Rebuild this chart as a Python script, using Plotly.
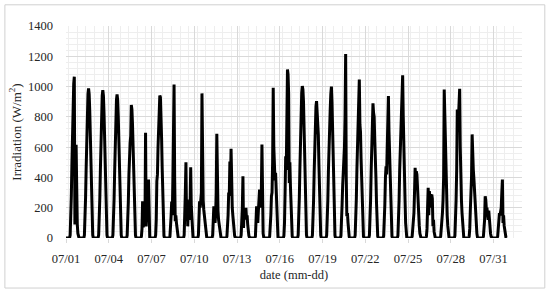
import pandas as pd
import plotly.graph_objects as go

# hourly irradiation (W/m2) for hours 07:00 .. 21:00 of each day in July, zero otherwise
daylight_hours = list(range(7, 22))

jul01 = [20, 110, 280, 500, 720, 900, 1020, 1065, 90, 300, 615, 200, 90, 30, 5]
jul02 = [20, 110, 270, 470, 670, 840, 950, 988, 950, 840, 670, 470, 270, 110, 20]
jul03 = [20, 108, 267, 465, 663, 830, 940, 977, 940, 830, 663, 465, 267, 108, 20]
jul04 = [19, 105, 259, 450, 643, 806, 912, 948, 912, 806, 643, 450, 259, 105, 19]
jul05 = [18, 95, 240, 420, 600, 630, 672, 878, 850, 750, 600, 420, 240, 95, 18]
jul06 = [10, 60, 243, 70, 110, 160, 90, 695, 77, 160, 230, 110, 386, 60, 5]
jul07 = [20, 120, 375, 420, 600, 780, 900, 941, 930, 830, 660, 460, 260, 100, 15]
jul08 = [10, 60, 143, 240, 150, 380, 981, 1014, 400, 110, 150, 100, 50, 15, 3]
jul09 = [20, 121, 300, 500, 143, 254, 77, 180, 150, 120, 200, 467, 210, 90, 10]
jul10 = [20, 120, 243, 200, 254, 300, 955, 309, 250, 187, 150, 100, 60, 20, 5]
jul11 = [20, 100, 210, 160, 100, 150, 300, 688, 232, 180, 120, 80, 40, 15, 3]
jul12 = [10, 60, 150, 300, 280, 505, 350, 589, 254, 200, 150, 90, 40, 15, 3]
jul13 = [20, 100, 200, 408, 66, 187, 121, 160, 200, 130, 150, 90, 40, 15, 3]
jul14 = [10, 80, 210, 150, 100, 180, 250, 320, 200, 280, 300, 617, 100, 30, 5]
jul15 = [10, 60, 150, 276, 300, 500, 992, 600, 441, 380, 430, 276, 150, 50, 5]
jul16 = [15, 100, 300, 540, 450, 750, 1113, 1080, 950, 364, 500, 342, 200, 80, 10]
jul17 = [20, 110, 270, 470, 670, 850, 960, 1003, 981, 900, 720, 500, 290, 110, 20]
jul18 = [18, 100, 250, 440, 620, 780, 870, 904, 838, 820, 680, 480, 270, 100, 18]
jul19 = [18, 100, 250, 450, 640, 761, 850, 950, 1000, 900, 700, 480, 270, 100, 18]
jul20 = [15, 90, 220, 350, 441, 500, 600, 800, 1215, 400, 143, 165, 100, 40, 8]
jul21 = [18, 100, 260, 460, 650, 805, 950, 1047, 750, 700, 520, 408, 187, 80, 10]
jul22 = [18, 100, 250, 450, 640, 780, 889, 827, 800, 650, 560, 398, 230, 90, 12]
jul23 = [15, 90, 220, 400, 474, 420, 650, 850, 937, 700, 518, 342, 200, 80, 10]
jul24 = [15, 100, 250, 450, 600, 650, 800, 950, 1074, 800, 540, 400, 254, 100, 12]
jul25 = [10, 50, 120, 165, 300, 463, 380, 441, 420, 300, 200, 121, 80, 30, 5]
jul26 = [10, 60, 200, 331, 150, 309, 250, 290, 200, 287, 260, 77, 120, 40, 5]
jul27 = [10, 50, 120, 165, 250, 400, 981, 800, 606, 400, 210, 150, 80, 30, 5]
jul28 = [15, 100, 250, 450, 849, 700, 800, 900, 986, 600, 342, 250, 165, 70, 10]
jul29 = [10, 60, 187, 300, 400, 684, 500, 450, 390, 300, 210, 150, 80, 30, 5]
jul30 = [10, 60, 120, 276, 250, 187, 200, 150, 121, 180, 100, 60, 30, 10, 3]
jul31 = [10, 60, 120, 165, 150, 176, 200, 300, 386, 100, 150, 80, 40, 10, 3]

days = [jul01, jul02, jul03, jul04, jul05, jul06, jul07, jul08, jul09, jul10,
        jul11, jul12, jul13, jul14, jul15, jul16, jul17, jul18, jul19, jul20,
        jul21, jul22, jul23, jul24, jul25, jul26, jul27, jul28, jul29, jul30, jul31]

times = pd.date_range("2021-07-01 00:00", periods=24 * len(days), freq="h")
irr = [0.0] * len(times)
for d, vals in enumerate(days):
    for h, v in zip(daylight_hours, vals):
        irr[d * 24 + h] = v

FONT = "Liberation Serif"
TXT = "#262626"
DAY_MS = 86400000

fig = go.Figure()
fig.add_trace(go.Scatter(x=times, y=irr, mode="lines",
                         line=dict(color="black", width=3), showlegend=False))

fig.update_layout(
    width=550, height=293,
    margin=dict(l=66, r=28, t=26, b=55),
    paper_bgcolor="white", plot_bgcolor="white",
    font=dict(family=FONT, size=12.5, color=TXT),
    shapes=[dict(type="rect", xref="paper", yref="paper",
                 x0=-0.134, x1=1.05, y0=-0.236, y1=1.10,
                 line=dict(color="#d0d0d0", width=1), layer="above")],
)
fig.update_xaxes(
    type="date", range=["2021-07-01", "2021-08-02"], automargin=False,
    tick0="2021-07-01", dtick=3 * DAY_MS, tickformat="%m/%d",
    showgrid=True, gridcolor="#d9d9d9", gridwidth=1,
    minor=dict(dtick=0.6 * DAY_MS, showgrid=True, gridcolor="#eeeeee"),
    ticks="outside", ticklen=4, tickcolor="#d9d9d9",
    ticklabelstandoff=5,
    zeroline=False, showline=False,
    tickfont=dict(family=FONT, size=12.5, color=TXT),
    title=dict(text="date (mm-dd)", font=dict(family=FONT, size=12.5, color=TXT), standoff=5),
)
fig.update_yaxes(
    range=[0, 1400], dtick=200, automargin=False,
    showgrid=True, gridcolor="#d9d9d9", gridwidth=1,
    minor=dict(dtick=40, showgrid=True, gridcolor="#eeeeee"),
    zeroline=False, showline=False,
    ticklabelstandoff=12,
    tickfont=dict(family=FONT, size=12.5, color=TXT),
    title=dict(text="Irradiation (W/m<sup>2</sup>)", font=dict(family=FONT, size=13, color=TXT), standoff=3),
)

# drop the default page margin so the figure sits at the window's corner
fig.write_html("out.html", config={"displayModeBar": False},
               post_script="document.body.style.margin='0';")
